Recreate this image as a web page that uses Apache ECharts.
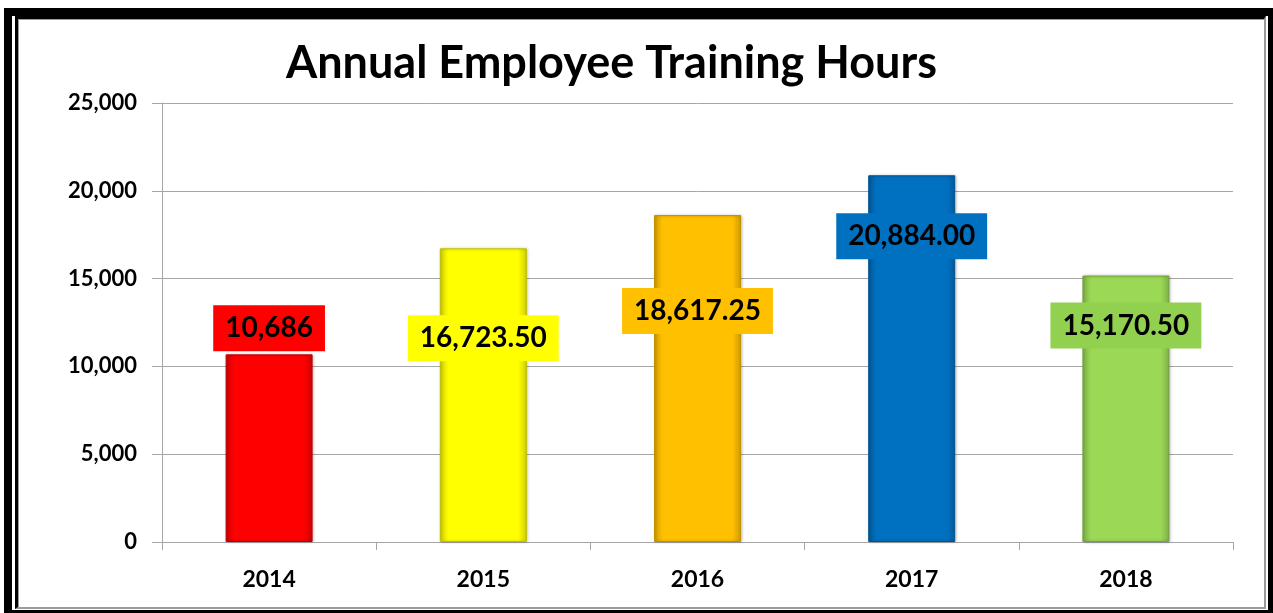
<!DOCTYPE html>
<html>
<head>
<meta charset="utf-8">
<script src="https://cdn.jsdelivr.net/npm/echarts@6/dist/echarts.min.js"></script>
<style>
  html, body { margin: 0; padding: 0; background: #fff; overflow: hidden; }
  #wrap { position: relative; width: 1273px; height: 613px; overflow: hidden; }
  #outer { position: absolute; left: 4px; top: 8px; width: 1272px; height: 610px;
           box-sizing: border-box; border: 8px solid #000; }
  #inner { position: absolute; left: 15px; top: 16px; width: 1251px; height: 593px;
           box-sizing: border-box; border-left: 3px solid #000; border-top: 3px solid #000;
           border-right: 2px solid #9a9a9a; border-bottom: 2px solid #9a9a9a;
           box-shadow: inset 1px 1px 0 #9a9a9a; }
  #chart { position: absolute; left: 0; top: 0; width: 1273px; height: 613px; }
</style>
</head>
<body>
<div id="wrap">
  <div id="outer"></div>
  <div id="inner"></div>
  <div id="chart"></div>
</div>
<script>
// Training hours per year
const years = ['2014', '2015', '2016', '2017', '2018'];
const hours = [10686, 16723.50, 18617.25, 20884.00, 15170.50];
const decimals = [0, 2, 2, 2, 2];
const barColors = ['#FF0000', '#FFFF00', '#FFC000', '#0070C0', '#9BD855'];
const labelColors = ['#FF0000', '#FFFF00', '#FFC000', '#0070C0', '#92D050'];
const yMin = 0, yMax = 25000, yStep = 5000;

// label centre, in pixels below the top of its bar
const labelDrop = [-26, 90, 96, 61, 50];

const FONT = 'Lato, "Open Sans", sans-serif';

function fmt(v, d) {
  return v.toLocaleString('en-US', { minimumFractionDigits: d, maximumFractionDigits: d });
}

function darken(c, f) {
  const p = echarts.color.parse(c);
  return 'rgb(' + [0, 1, 2].map(k => Math.round(p[k] * (1 - f))).join(',') + ')';
}

// soft bevel: darker left and right edges
function barFill(c) {
  const edge = darken(c, 0.18);
  return new echarts.graphic.LinearGradient(0, 0, 1, 0, [
    { offset: 0, color: edge },
    { offset: 0.1, color: c },
    { offset: 0.9, color: c },
    { offset: 1, color: edge }
  ]);
}

const chart = echarts.init(document.getElementById('chart'), null, { renderer: 'canvas' });

chart.setOption({
  backgroundColor: 'transparent',
  animation: false,
  title: {
    text: 'Annual Employee Training Hours',
    left: 281,
    top: 36,
    textStyle: { fontFamily: FONT, fontWeight: 'bold', fontSize: 45, color: '#000' }
  },
  grid: { left: 162, right: 40, top: 103, bottom: 71, containLabel: false },
  xAxis: {
    type: 'category',
    data: years,
    axisLine: { lineStyle: { color: '#a6a6a6', width: 1 } },
    axisTick: { show: true, length: 8, lineStyle: { color: '#a6a6a6' } },
    axisLabel: { margin: 26, fontFamily: FONT, fontWeight: 'bold', fontSize: 23, color: '#000' }
  },
  yAxis: {
    type: 'value',
    min: yMin, max: yMax, interval: yStep,
    axisLine: { show: true, lineStyle: { color: '#a6a6a6', width: 1 } },
    axisTick: { show: true, length: 10, lineStyle: { color: '#a6a6a6' } },
    splitLine: { lineStyle: { color: '#a6a6a6', width: 1 } },
    axisLabel: {
      margin: 25, fontFamily: FONT, fontWeight: 'bold', fontSize: 22, color: '#000',
      formatter: v => fmt(v, 0)
    }
  },
  series: [{
    type: 'bar',
    barWidth: 87,
    data: hours.map((v, i) => ({
      value: v,
      itemStyle: {
        color: barFill(barColors[i]),
        borderColor: darken(barColors[i], 0.25),
        borderWidth: 1,
        shadowColor: 'rgba(0,0,0,0.25)',
        shadowBlur: 3,
        shadowOffsetX: 1,
        shadowOffsetY: 0
      },
      label: {
        show: true,
        position: ['50%', labelDrop[i]],
        align: 'center',
        verticalAlign: 'middle',
        formatter: () => fmt(v, decimals[i]),
        fontFamily: FONT,
        fontWeight: 'bold',
        fontSize: 28,
        lineHeight: 30,
        color: '#000',
        backgroundColor: labelColors[i],
        padding: [8, 12, 8, 12]
      }
    }))
  }]
});
</script>
</body>
</html>
